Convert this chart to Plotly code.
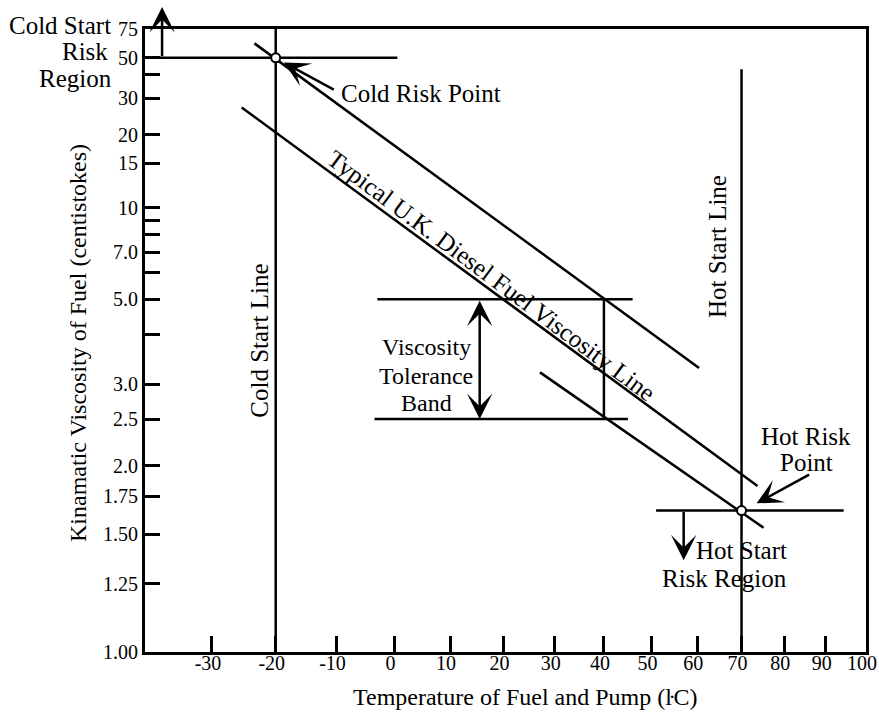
import numpy as np
import plotly.graph_objects as go

# ---- axis scales -------------------------------------------------------
# Temperature axis: logarithmic in (t + 230) so degree spacing narrows toward the hot end
T_OFFSET = 230.0


def tx(t):
    return np.log10(np.asarray(t, dtype=float) + T_OFFSET)


# Viscosity axis: Walther double-log scale, log10(log10(v + 0.7))
def vy(v):
    return np.log10(np.log10(np.asarray(v, dtype=float) + 0.7))


# ---- tick values / labels ---------------------------------------------
x_ticks = [-30, -20, -10, 0, 10, 20, 30, 40, 50, 60, 70, 80, 90, 100]
x_tick_labels = [str(t) for t in x_ticks]

y_ticks = [1.00, 1.25, 1.50, 1.75, 2.0, 2.5, 3.0, 4.0, 5.0, 6.0, 7.0, 8.0, 9.0,
           10, 15, 20, 30, 40, 50, 75]
y_tick_labels = ["1.00", "1.25", "1.50", "1.75", "2.0", "2.5", "3.0", "", "5.0", "",
                 "7.0", "", "", "10", "15", "20", "30", "", "50", "75"]

T_MIN, T_MAX = -40, 100
V_MIN, V_MAX = 1.0, 75

# ---- viscosity-temperature lines (deg C, centistokes) ------------------
upper_line_t = [-23.4, 60.4]
upper_line_v = [61.0, 3.28]
typical_line_t = [-25.4, 73.7]
typical_line_v = [27.0, 1.83]
lower_line_t = [27.1, 75.1]
lower_line_v = [3.2, 1.54]

# start lines
cold_start_t = -20
cold_start_v = [1.0, 75.0]
hot_start_t = 70
hot_start_v = [1.0, 43.0]

# risk points and risk-region limits
cold_risk_t, cold_risk_v = -20, 50.0
hot_risk_t, hot_risk_v = 70, 1.65
cold_limit_t = [-40, 0.5]
hot_limit_t = [51, 94.4]

# viscosity tolerance band
band_top_v, band_bottom_v = 5.0, 2.5
band_top_t = [-3.0, 46.0]
band_bottom_t = [-3.5, 45.0]
band_edge_t = 40
band_arrow_t = 15.5

# arrow end points (tail -> tip)
cold_region_arrow = dict(t=-37.5, v_from=50.0, v_to=105.0)
hot_region_arrow = dict(t=57.0, v_from=1.65, v_to=1.36)
cold_point_arrow = dict(t_from=-10.2, v_from=33.0, t_to=-18.7, v_to=47.0)
hot_point_arrow = dict(t_from=86.3, v_from=1.93, t_to=73.5, v_to=1.70)

FONT = "Liberation Serif"
LW = 2.5
AXIS_LW = 3
BIG = 25

fig = go.Figure()


def seg(ts, vs):
    fig.add_trace(go.Scatter(
        x=tx(ts), y=vy(vs), mode="lines",
        line=dict(color="black", width=LW),
        hoverinfo="skip", showlegend=False,
    ))


seg(upper_line_t, upper_line_v)
seg(typical_line_t, typical_line_v)
seg(lower_line_t, lower_line_v)
seg([cold_start_t] * 2, cold_start_v)
seg([hot_start_t] * 2, hot_start_v)
seg(cold_limit_t, [cold_risk_v] * 2)
seg(hot_limit_t, [hot_risk_v] * 2)
seg(band_top_t, [band_top_v] * 2)
seg(band_bottom_t, [band_bottom_v] * 2)
seg([band_edge_t] * 2, [band_bottom_v, band_top_v])

# risk points
fig.add_trace(go.Scatter(
    x=tx([cold_risk_t, hot_risk_t]), y=vy([cold_risk_v, hot_risk_v]),
    mode="markers",
    marker=dict(size=9, color="white", line=dict(color="black", width=2)),
    hoverinfo="skip", showlegend=False,
))


def arrow(t0, v0, t1, v1, both=False):
    fig.add_annotation(
        x=float(tx(t1)), y=float(vy(v1)), ax=float(tx(t0)), ay=float(vy(v0)),
        xref="x", yref="y", axref="x", ayref="y", text="",
        showarrow=True, arrowhead=3, arrowsize=1.7, arrowwidth=LW,
        arrowcolor="black", standoff=0, startstandoff=0,
        arrowside="end+start" if both else "end",
        startarrowhead=3, startarrowsize=1.7,
    )


arrow(cold_region_arrow["t"], cold_region_arrow["v_from"],
      cold_region_arrow["t"], cold_region_arrow["v_to"])
arrow(hot_region_arrow["t"], hot_region_arrow["v_from"],
      hot_region_arrow["t"], hot_region_arrow["v_to"])
arrow(band_arrow_t, band_top_v, band_arrow_t, band_bottom_v, both=True)
arrow(cold_point_arrow["t_from"], cold_point_arrow["v_from"],
      cold_point_arrow["t_to"], cold_point_arrow["v_to"])
arrow(hot_point_arrow["t_from"], hot_point_arrow["v_from"],
      hot_point_arrow["t_to"], hot_point_arrow["v_to"])


def label(text, t, v, xanchor="center", angle=0, xshift=0, size=BIG):
    fig.add_annotation(
        x=float(tx(t)), y=float(vy(v)), xref="x", yref="y", text=text,
        showarrow=False, xanchor=xanchor, yanchor="middle",
        textangle=angle, xshift=xshift, borderpad=0,
        font=dict(family=FONT, size=size, color="black"),
    )


def paper_label(text, x, y, xanchor="center", angle=0, size=BIG):
    fig.add_annotation(
        x=x, y=y, xref="paper", yref="paper", text=text, showarrow=False,
        xanchor=xanchor, yanchor="middle", textangle=angle, borderpad=0,
        font=dict(family=FONT, size=size, color="black"),
    )


label("Cold Risk Point", -9.4, 32.0, xanchor="left")
label("Cold Start Line", cold_start_t, 3.84, angle=-90, xshift=-16)
label("Hot Start Line", hot_start_t, 7.3, angle=-90, xshift=-24)
label("Typical U.K. Diesel Fuel Viscosity Line", 17.7, 5.9, angle=36.7)
label("Viscosity", 5.7, 3.70, size=24)
label("Tolerance", 5.7, 3.13, size=24)
label("Band", 5.7, 2.72, size=24)
label("Hot Risk", 85.1, 2.29)
label("Point", 85.2, 2.03)
label("Hot Start", 80.8, 1.41, xanchor="right")
label("Risk Region", 80.8, 1.275, xanchor="right")

paper_label("Cold Start", -0.0458, 1.0064, xanchor="right")
paper_label("Risk", -0.0499, 0.9631, xanchor="right")
paper_label("Region", -0.0444, 0.9213, xanchor="right")

paper_label("Temperature of Fuel and Pump (ŀC)", 0.527, -0.0722, size=24)
paper_label("Kinamatic Viscosity of Fuel (centistokes)", -0.0929, 0.496,
            angle=-90, size=24)

axis_common = dict(
    showgrid=False, zeroline=False, showline=True, linecolor="black",
    linewidth=AXIS_LW, mirror=True, ticks="inside", tickcolor="black",
    tickwidth=LW, tickfont=dict(family=FONT, size=20, color="black"),
    automargin=False, ticklabeloverflow="allow",
)

fig.update_xaxes(
    range=[float(tx(T_MIN)), float(tx(T_MAX))],
    tickmode="array", tickvals=tx(x_ticks).tolist(), ticktext=x_tick_labels,
    ticklen=16, ticklabelstandoff=-9, ticklabelshift=-4, **axis_common,
)
fig.update_yaxes(
    range=[float(vy(V_MIN)), float(vy(V_MAX))],
    tickmode="array", tickvals=vy(y_ticks).tolist(), ticktext=y_tick_labels,
    ticklen=15, **axis_common,
)

fig.update_layout(
    width=879, height=715,
    margin=dict(l=145, r=13, t=29, b=63),
    paper_bgcolor="white", plot_bgcolor="white",
    font=dict(family=FONT, color="black"),
    showlegend=False,
)

fig.write_html("out.html")
